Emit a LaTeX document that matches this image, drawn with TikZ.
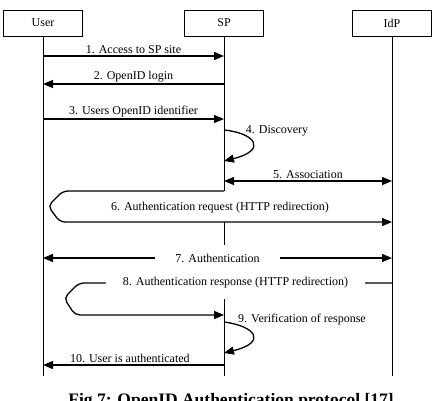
\documentclass[tikz,border=0pt]{standalone}
\usepackage{fontspec}
\setmainfont{Liberation Serif}
\usetikzlibrary{arrows.meta}

\begin{document}
\begin{tikzpicture}[x=1pt, y=-1pt,
    actor/.style={draw, line width=0.7pt, minimum width=79pt, minimum height=26pt, inner sep=0pt, font=\fontsize{12}{14}\selectfont},
    life/.style={line width=0.8pt},
    msg/.style={line width=1.3pt, -{Triangle[length=10pt,width=8pt]}},
    twoway/.style={line width=1.3pt, {Triangle[length=10pt,width=8pt]}-{Triangle[length=10pt,width=8pt]}},
    lbl/.style={font=\fontsize{12}{14}\selectfont, inner sep=1.5pt}]
    \useasboundingbox (0,0) rectangle (439,400);
    \clip (0,0) rectangle (439,400);

    % Actors
    \node[actor] (user) at (43, 23) {User};
    \node[actor] (sp) at (224, 23) {SP};
    \node[actor] (idp) at (392, 23) {IdP};

    % Lifelines
    \draw[life] (user.south) -- (user |- 0,376);
    \draw[life] (sp.south) -- (sp |- 0,191);
    \draw[life] (sp |- 0,222) -- (sp |- 0,245);
    \draw[life] (sp |- 0,299) -- (sp |- 0,376);
    \draw[life] (idp.south) -- (idp |- 0,376);

    % Messages
    \draw[msg] (user |- 0,56) -- node[lbl, above] {1. Access to SP site} (sp |- 0,56);
    \draw[msg] (sp |- 0,84) -- node[lbl, above] {2. OpenID login} (user |- 0,84);
    \draw[msg] (user |- 0,119) -- node[lbl, above] {3. Users OpenID identifier} (sp |- 0,119);

    \draw[msg] (sp |- 0,130) .. controls (255,133) and (268,150) .. (sp |- 0,161);
    \node[lbl] (l4) at (277, 131) {4. Discovery};

    \draw[twoway] (sp |- 0,181) -- node[lbl, above] {5. Association} (idp |- 0,181);

    \draw[msg, rounded corners=5pt] (sp |- 0,191) -- (63,191) -- (48,206) -- (60,222) -- (idp |- 0,222);
    \node[lbl] (l6) at (220, 208) {6. Authentication request (HTTP redirection)};

    \draw[twoway] (user |- 0,258) -- node[lbl, fill=white, inner xsep=20pt] {7. Authentication} (idp |- 0,258);

    \draw[msg, rounded corners=5pt] (idp |- 0,283) -- node[lbl, fill=white, inner xsep=17pt, pos=0.5] {8. Authentication response (HTTP redirection)} (79,283) -- (64,298) -- (75,315) -- (sp |- 0,315);

    \draw[msg] (sp |- 0,322) .. controls (255,326) and (268,342) .. (sp |- 0,353);
    \node[lbl] (l9) at (302, 320) {9. Verification of response};

    \draw[msg] (sp |- 0,365) -- node[lbl, above, pos=0.52] {10. User is authenticated} (user |- 0,365);

    % Caption
    \node[font=\fontsize{17.5}{20}\selectfont\bfseries, anchor=base] (cap) at (231, 405) {Fig 7: OpenID Authentication protocol [17]};
\end{tikzpicture}
\end{document}
